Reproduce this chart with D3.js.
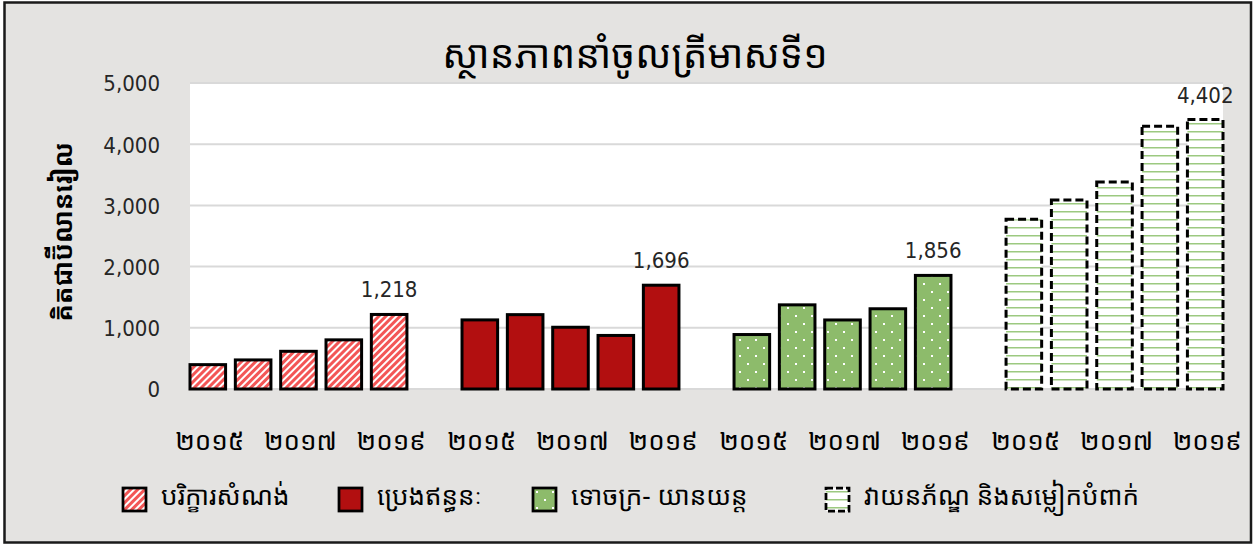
<!DOCTYPE html>
<html>
<head>
<meta charset="utf-8">
<script src="https://cdn.jsdelivr.net/npm/d3@7"></script>
<style>
  body { margin: 0; background: #ffffff; }
  .kh { font-family: "Khmer OS", "Khmer OS System", "Noto Sans Khmer", "Noto Serif Khmer", "Noto Sans", sans-serif; fill: #000; }
  .num { font-family: "DejaVu Sans Condensed", "Liberation Sans Narrow", "DejaVu Sans", sans-serif; fill: #262626; }
</style>
</head>
<body>
<script>
//chart data
var years = ["២០១៥", "២០១៦", "២០១៧", "២០១៨", "២០១៩"];
var seriesNames = ["បរិក្ខារសំណង់", "ប្រេងឥន្ធនៈ", "ទោចក្រ- យានយន្ត", "វាយនភ័ណ្ឌ និងសម្លៀកបំពាក់"];
var construction = [398, 475, 616, 803, 1218];
var fuel = [1129, 1215, 1009, 875, 1696];
var vehicles = [890, 1375, 1128, 1311, 1856];
var textiles = [2772, 3087, 3381, 4293, 4402];
var yTicks = [0, 1000, 2000, 3000, 4000, 5000];
var chartTitle = "ស្ថានភាពនាំចូលត្រីមាសទី១";
var yTitle = "គិតជាប៊ីលានរៀល";

var allSeries = [construction, fuel, vehicles, textiles];
var fills = ["url(#diag)", "#b20f10", "url(#dots)", "url(#hlines)"];

window.onload = drawChart();

function drawChart(){
    var width = 1259, height = 544;
    var plot = { left: 190, right: 1223, top: 83, bottom: 389 };

    var svg = d3.select("body")
        .append("svg")
        .attr("width", width)
        .attr("height", height);

    makePatterns(svg);

    //chart frame
    svg.append("rect")
        .attr("x", 4.5).attr("y", 2.5)
        .attr("width", 1246.5).attr("height", 540)
        .style("fill", "#e4e3e1")
        .style("stroke", "#1a1a1a")
        .style("stroke-width", 2.5);

    //build slot list: 5 years per series, one empty slot between groups
    var slots = [];
    allSeries.forEach(function(vals, s){
        vals.forEach(function(v, i){
            slots.push({ key: s + "-" + i, series: s, year: years[i], value: v, last: i == vals.length - 1 });
        });
        if (s < allSeries.length - 1) slots.push({ key: "gap" + s, series: -1 });
    });

    var x = d3.scaleBand()
        .domain(slots.map(function(d){ return d.key; }))
        .range([plot.left, plot.right])
        .paddingInner(0.215)
        .paddingOuter(0);

    var y = d3.scaleLinear()
        .domain([0, 5000])
        .range([plot.bottom, plot.top]);

    //plot area
    svg.append("rect")
        .attr("x", plot.left).attr("y", plot.top)
        .attr("width", plot.right - plot.left)
        .attr("height", plot.bottom - plot.top)
        .style("fill", "#ffffff");

    //gridlines
    svg.selectAll(".grid")
        .data(yTicks)
        .enter()
        .append("line")
        .attr("class", "grid")
        .attr("x1", plot.left).attr("x2", plot.right)
        .attr("y1", function(d){ return y(d); })
        .attr("y2", function(d){ return y(d); })
        .style("stroke", "#d9d9d9")
        .style("stroke-width", 2);

    //y axis labels
    var yAxis = svg.append("g")
        .attr("transform", "translate(" + (plot.left - 30) + ",0)")
        .call(d3.axisLeft(y).tickValues(yTicks).tickSize(0).tickPadding(0).tickFormat(d3.format(",")));
    yAxis.select(".domain").remove();
    yAxis.selectAll("text")
        .attr("class", "num")
        .attr("font-family", null)
        .style("font-size", "22px")
        .attr("dy", "0.36em");

    //bars
    var bars = slots.filter(function(d){ return d.series >= 0; });
    svg.selectAll(".bar")
        .data(bars)
        .enter()
        .append("rect")
        .attr("class", "bar")
        .attr("x", function(d){ return x(d.key); })
        .attr("y", function(d){ return y(d.value); })
        .attr("width", x.bandwidth())
        .attr("height", function(d){ return y(0) - y(d.value); })
        .style("fill", function(d){ return fills[d.series]; })
        .style("stroke", "#000")
        .style("stroke-width", 3)
        .style("stroke-dasharray", function(d){ return d.series == 3 ? "8,4" : null; });

    //value labels on last bar of each group
    svg.selectAll(".vlabel")
        .data(bars.filter(function(d){ return d.last; }))
        .enter()
        .append("text")
        .attr("class", "num")
        .attr("x", function(d){ return x(d.key) + x.bandwidth() / 2; })
        .attr("y", function(d){ return y(d.value) - 17; })
        .attr("text-anchor", "middle")
        .style("font-size", "22px")
        .text(function(d){ return d3.format(",")(d.value); });

    //category labels, every other slot
    svg.selectAll(".xlabel")
        .data(slots.filter(function(d, i){ return i % 2 == 0 && d.series >= 0; }))
        .enter()
        .append("text")
        .attr("class", "kh")
        .attr("x", function(d){ return x(d.key) + x.bandwidth() / 2 + 2; })
        .attr("y", 450)
        .attr("text-anchor", "middle")
        .style("font-size", "26px")
        .text(function(d){ return d.year; });

    //title
    svg.append("text")
        .attr("class", "kh")
        .attr("x", 635).attr("y", 68)
        .attr("text-anchor", "middle")
        .style("font-size", "39px")
        .text(chartTitle);

    //y title
    svg.append("text")
        .attr("class", "kh")
        .attr("transform", "translate(72,232) rotate(-90)")
        .attr("text-anchor", "middle")
        .style("font-size", "26px")
        .style("font-weight", "bold")
        .text(yTitle);

    //legend
    var legendX = [123, 339, 533, 826];
    var legend = svg.selectAll(".legend")
        .data(seriesNames)
        .enter()
        .append("g")
        .attr("transform", function(d, i){ return "translate(" + legendX[i] + ",488)"; });
    legend.append("rect")
        .attr("width", 23).attr("height", 23)
        .style("fill", function(d, i){ return fills[i]; })
        .style("stroke", "#000")
        .style("stroke-width", 2.75)
        .style("stroke-dasharray", function(d, i){ return i == 3 ? "7,3" : null; });
    legend.append("text")
        .attr("class", "kh")
        .attr("x", 38).attr("y", 17)
        .style("font-size", "26px")
        .text(function(d){ return d; });
}

function makePatterns(svg){
    var defs = svg.append("defs");

    //wide upward diagonal
    var diag = defs.append("pattern")
        .attr("id", "diag")
        .attr("patternUnits", "userSpaceOnUse")
        .attr("width", 5).attr("height", 5)
        .attr("patternTransform", "rotate(45)");
    diag.append("rect").attr("width", 5).attr("height", 5).style("fill", "#ffffff");
    diag.append("rect").attr("width", 3).attr("height", 5).style("fill", "#f35656");

    //dotted green
    var dots = defs.append("pattern")
        .attr("id", "dots")
        .attr("patternUnits", "userSpaceOnUse")
        .attr("width", 16).attr("height", 16);
    dots.append("rect").attr("width", 16).attr("height", 16).style("fill", "#8dbb6b");
    dots.append("rect").attr("x", 3).attr("y", 3).attr("width", 2).attr("height", 2).style("fill", "#ffffff");
    dots.append("rect").attr("x", 11).attr("y", 11).attr("width", 2).attr("height", 2).style("fill", "#ffffff");

    //horizontal green lines
    var hl = defs.append("pattern")
        .attr("id", "hlines")
        .attr("patternUnits", "userSpaceOnUse")
        .attr("width", 8).attr("height", 8);
    hl.append("rect").attr("width", 8).attr("height", 8).style("fill", "#ffffff");
    hl.append("rect").attr("y", 3).attr("width", 8).attr("height", 1.5).style("fill", "#9cc980");
}
</script>
</body>
</html>
